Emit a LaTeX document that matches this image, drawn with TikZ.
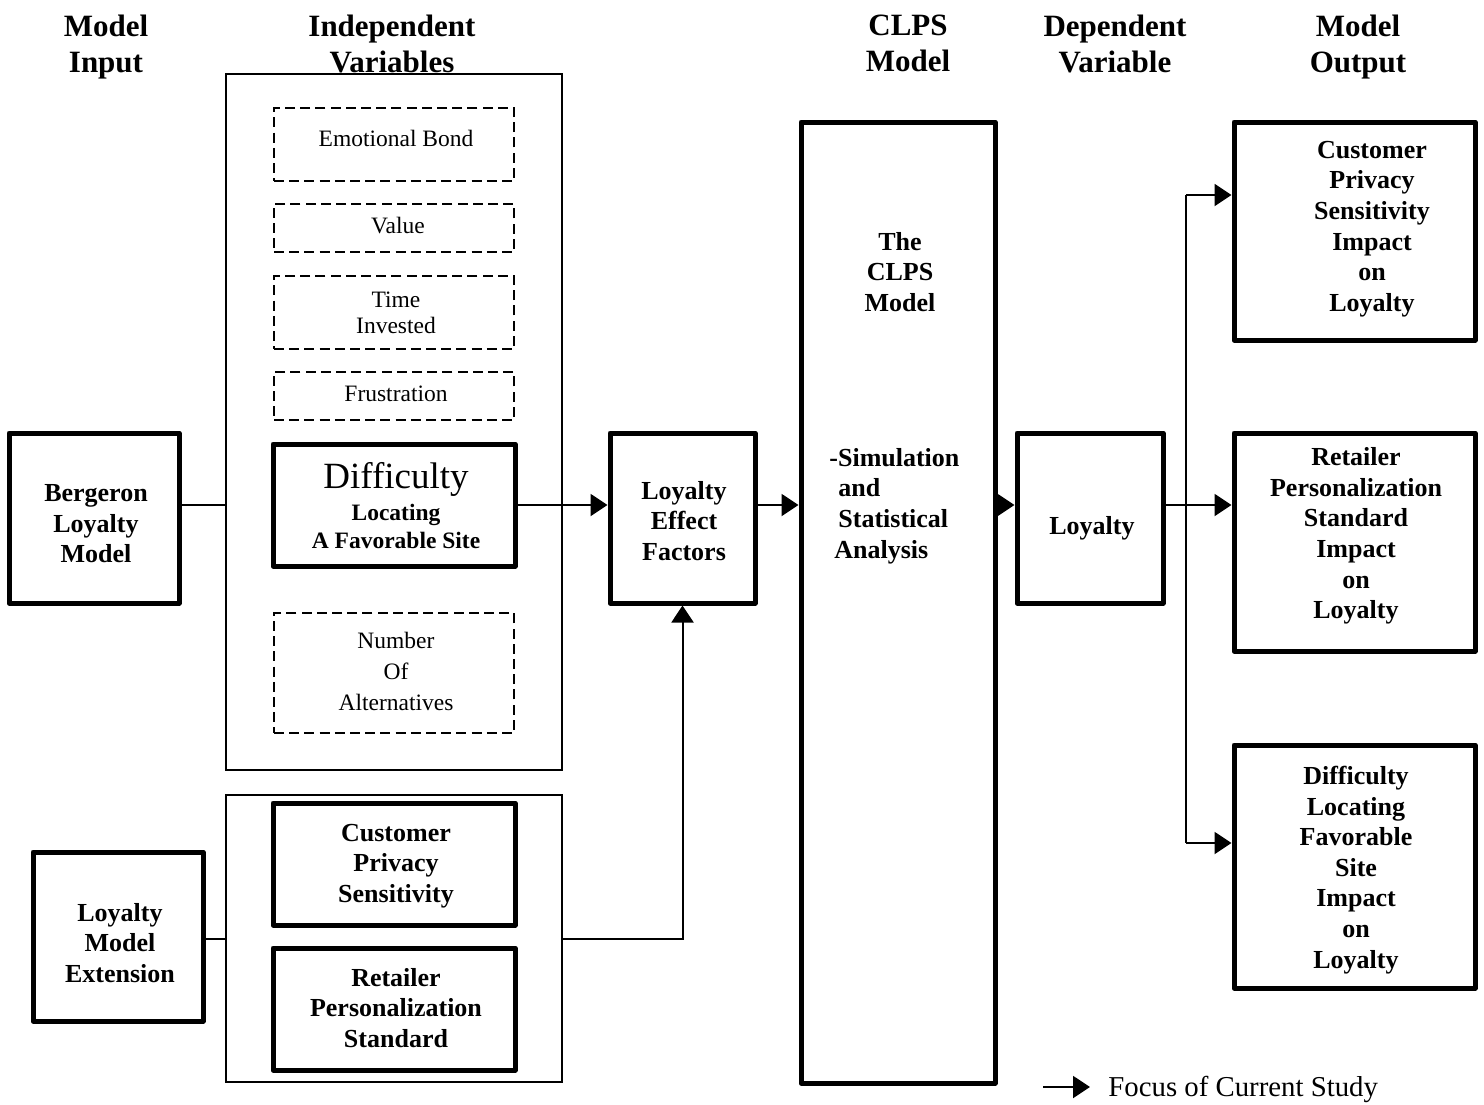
\documentclass[tikz,border=0pt]{standalone}
\usepackage{fontspec}
\setmainfont{Liberation Serif}
\usetikzlibrary{arrows.meta}
\begin{document}
\begin{tikzpicture}[x=0.5pt,y=-0.5pt,
  thickbox/.style={draw, line width=2.5pt, line join=round, inner sep=0pt},
  thinbox/.style={draw, line width=1pt, inner sep=0pt},
  dashbox/.style={draw, line width=0.8pt, dash pattern=on 5pt off 2.6pt, inner sep=0pt},
  dt/.style={align=center, inner sep=0pt, font=\fontsize{11.75}{13}\selectfont},
  bt/.style={align=center, inner sep=0pt, font=\fontsize{13}{15.3}\selectfont\bfseries},
  head/.style={align=center, inner sep=0pt, anchor=north, font=\fontsize{15.5}{17.8}\selectfont\bfseries},
  conn/.style={line width=1pt},
  arr/.style={line width=1pt, -{Triangle[length=8.5pt,width=11pt]}},
]
\useasboundingbox (0,0) rectangle (1484,1104);

% column headings
\node[head] (h1) at (106,15) {Model\\Input};
\node[head] (h2) at (392,15) {Independent\\Variables};
\node[head] (h3) at (908,15) {CLPS\\Model};
\node[head] (h4) at (1115,15) {Dependent\\Variable};
\node[head] (h5) at (1358,15) {Model\\Output};

% model inputs
\node[thickbox, minimum width=85pt, minimum height=85pt] (berg) at (94,518) {};
\node[bt] (bergtxt) at (96,524) {Bergeron\\Loyalty\\Model};
\node[thickbox, minimum width=85pt, minimum height=84.5pt] (lme) at (118,936.5) {};
\node[bt] (lmetxt) at (120,943) {Loyalty\\Model\\Extension};

% independent variables
\node[thinbox, minimum width=168pt, minimum height=348pt] (iv) at (394,422) {};
\node[thinbox, minimum width=168pt, minimum height=143.5pt] (ivx) at (394,938.5) {};

\node[dashbox, minimum width=120pt, minimum height=36.5pt] (emo) at (394,144.5) {};
\node[dt] (emotxt) at (396,138) {Emotional Bond};
\node[dashbox, minimum width=120pt, minimum height=24pt] (val) at (394,228) {};
\node[dt] (valtxt) at (398,226) {Value};
\node[dashbox, minimum width=120pt, minimum height=36.5pt] (tim) at (394,312.5) {};
\node[dt] (timtxt) at (396,313) {Time\\Invested};
\node[dashbox, minimum width=120pt, minimum height=24pt] (fru) at (394,396) {};
\node[dt] (frutxt) at (396,394) {Frustration};
\node[thickbox, minimum width=121pt, minimum height=61pt] (diff) at (394,505) {};
\node[align=center, inner sep=0pt, font=\fontsize{11.75}{14}\selectfont\bfseries] (difftxt) at (396,506)
  {{\fontsize{18.5}{20}\selectfont\mdseries Difficulty}\\[2pt]Locating\\A Favorable Site};
\node[dashbox, minimum width=120pt, minimum height=60pt] (num) at (394,673) {};
\node[dt, font=\fontsize{11.75}{15.5}\selectfont] (numtxt) at (396,671) {Number\\Of\\Alternatives};

\node[thickbox, minimum width=121pt, minimum height=61pt] (cps) at (394,864) {};
\node[bt] (cpstxt) at (396,866) {Customer\\Privacy\\Sensitivity};
\node[thickbox, minimum width=121pt, minimum height=61pt] (rps) at (394,1009) {};
\node[bt] (rpstxt) at (396,1008) {Retailer\\Personalization\\Standard};

% loyalty effect factors and CLPS model
\node[thickbox, minimum width=72.5pt, minimum height=85pt] (lef) at (682.5,518) {};
\node[bt] (leftxt) at (684,521) {Loyalty\\Effect\\Factors};
\node[thickbox, minimum width=97pt, minimum height=480.5pt] (clps) at (898,602.5) {};
\node[bt] (clpstxt) at (900,272) {The\\CLPS\\Model};
\node[bt, align=left, anchor=west] (simtxt) at (829,506)
  {-Simulation\\\hspace*{4.5pt}and\\\hspace*{4.5pt}Statistical\\\hspace*{2.5pt}Analysis};

% dependent variable
\node[thickbox, minimum width=73pt, minimum height=85pt] (loy) at (1090,518) {};
\node[bt] (loytxt) at (1092,528) {Loyalty};

% model outputs
\node[thickbox, minimum width=120.5pt, minimum height=109pt] (out1) at (1354.5,231) {};
\node[bt] (out1txt) at (1372,229) {Customer\\Privacy\\Sensitivity\\Impact\\on\\Loyalty};
\node[thickbox, minimum width=120.5pt, minimum height=109pt] (out2) at (1354.5,542) {};
\node[bt] (out2txt) at (1356,536) {Retailer\\Personalization\\Standard\\Impact\\on\\Loyalty};
\node[thickbox, minimum width=120.5pt, minimum height=121.5pt] (out3) at (1354.5,866.5) {};
\node[bt] (out3txt) at (1356,870) {Difficulty\\Locating\\Favorable\\Site\\Impact\\on\\Loyalty};

% connectors
\draw[conn] (berg.east |- diff) -- (iv.west |- diff);
\draw[arr] (diff.east) -- (lef.west |- diff);
\draw[arr] (lef.east |- diff) -- (clps.west |- diff);
\draw[arr] (clps.east |- diff) -- (loy.west |- diff);
\draw[arr] (loy.east |- diff) -- (out2.west |- diff);
\coordinate (br1) at (1186,195);
\coordinate (br3) at (1186,843);
\draw[conn] (br1) -- (br3);
\draw[arr] (br1) -- (out1.west |- br1);
\draw[arr] (br3) -- (out3.west |- br3);
\draw[conn] (lme.east |- ivx.west) -- (ivx.west);
\draw[arr] (ivx.east) -| (lef.south);

% legend
\coordinate (lg) at (1043,1087);
\node[anchor=west, inner sep=0pt, font=\fontsize{14.4}{16}\selectfont] (legtxt) at (1108,1089) {Focus of Current Study};
\draw[arr] (lg) -- ([xshift=-9pt]legtxt.west |- lg);
\end{tikzpicture}
\end{document}
